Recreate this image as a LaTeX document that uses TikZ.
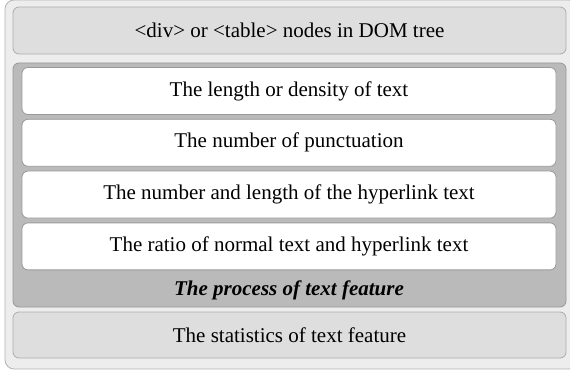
\documentclass[tikz,border=0pt]{standalone}
\usepackage{fontspec}
\setmainfont{Liberation Serif}
\usetikzlibrary{positioning}

\begin{document}
\begin{tikzpicture}[x=1pt,y=-1pt,
      frame/.style={rectangle,draw=black!30,fill=black!7,rounded corners=2ex,line width=.8pt},
      band/.style={rectangle,draw=black!32,fill=black!13,rounded corners=1.3ex,line width=.8pt,
        minimum width=553pt,minimum height=47pt,font=\fontsize{21}{25}\selectfont},
      group/.style={rectangle,draw=black!40,fill=black!27,rounded corners=1.3ex,line width=.8pt,
        minimum width=553pt,minimum height=244pt},
      feature/.style={rectangle,draw=black!40,fill=white,rounded corners=1.3ex,line width=.8pt,
        minimum width=534pt,minimum height=47pt,font=\fontsize{21}{25}\selectfont}]
      \useasboundingbox (0,0) rectangle (570,371);
      % Outer frame
      \node[frame,minimum width=573pt,minimum height=369pt] (outer) at (291.5,184.5) {};
      % Top and bottom bands
      \node[band] (dom) at (289.5,30.5) {<div> or <table> nodes in DOM tree};
      \node[band,minimum height=46pt] (stats) at (289.5,335) {The statistics of text feature};
      % Process group and its features
      \node[group] (process) at (289.5,185) {};
      \node[feature] (density) at (289,91) {The length or density of text};
      \node[feature,below=4pt of density] (punct) {The number of punctuation};
      \node[feature,below=4pt of punct] (links) {The number and length of the hyperlink text};
      \node[feature,below=4pt of links] (ratio) {The ratio of normal text and hyperlink text};
      \node[font=\fontsize{21}{25}\selectfont\bfseries\itshape,below=7pt of ratio] (title) {The process of text feature};
\end{tikzpicture}
\end{document}
